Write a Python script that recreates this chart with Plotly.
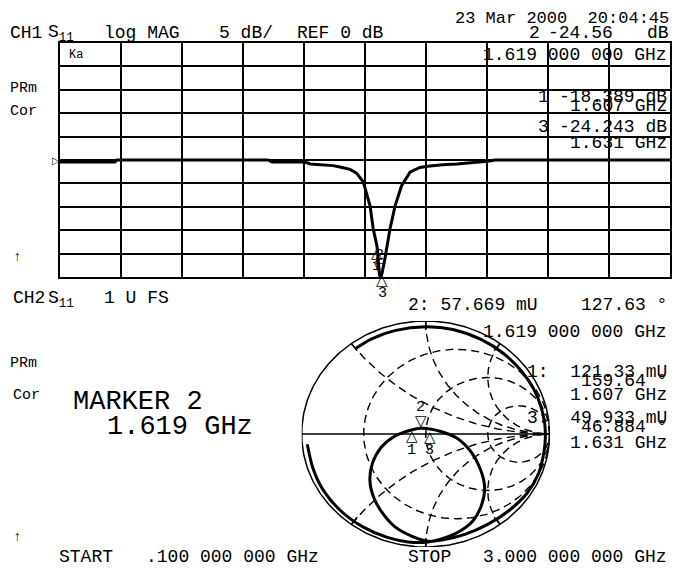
import numpy as np
import plotly.graph_objects as go

W, H = 682, 574          # window / reference size
OFF = 8                  # default page margin of the html body
FW, FH = W - 2 * OFF, H - 2 * OFF

# ---------------- data ----------------
# CH1: S11 log magnitude (GHz, dB)
freq_ghz = [0.100, 0.361, 0.371, 1.089, 1.108, 1.265, 1.289, 1.398, 1.431, 1.479,
            1.510, 1.542, 1.574, 1.589, 1.607, 1.619, 1.625, 1.631, 1.645, 1.653,
            1.669, 1.693, 1.724, 1.764, 1.811, 1.859, 1.920, 1.987, 2.080, 2.144,
            2.168, 3.000]
s11_db = [-0.43, -0.43, 0.0, 0.0, -0.43, -0.43, -0.85, -1.2, -1.5, -2.0,
          -2.8, -4.7, -9.8, -14.7, -18.389, -24.56, -25.0, -24.243, -21.0, -19.0,
          -14.7, -9.8, -5.5, -2.6, -1.6, -1.3, -1.0, -0.85, -0.5, -0.2,
          0.0, 0.0]

# markers
marker_id = ["1", "2", "3"]
marker_freq = [1.607, 1.619, 1.631]
marker_db = [-18.389, -24.56, -24.243]
marker_mag_mu = [121.33, 67.669, 49.933]
marker_ang_deg = [159.64, 127.63, 46.884]

smith_re = [-0.56, -0.44, -0.25, 0.00, 0.22, 0.45, 0.63, 0.77, 0.87, 0.93,
            0.96, 0.965, 0.955, 0.91, 0.82, 0.68, 0.50, 0.31, 0.14, 0.03,
            -0.11, -0.25, -0.355, -0.42, -0.45, -0.43, -0.36, -0.25, -0.114, -0.041,
            0.034, 0.13, 0.25, 0.36, 0.44, 0.475, 0.45, 0.38, 0.26, 0.12,
            0.02, -0.14, -0.31, -0.51, -0.69, -0.83, -0.91, -0.955]
smith_im = [0.76, 0.84, 0.915, 0.95, 0.925, 0.835, 0.71, 0.56, 0.40, 0.24,
            0.09, -0.03, -0.15, -0.35, -0.52, -0.67, -0.80, -0.89, -0.935, -0.95,
            -0.905, -0.82, -0.69, -0.56, -0.41, -0.26, -0.12, -0.02, 0.035, 0.05,
            0.045, 0.02, -0.035, -0.15, -0.31, -0.47, -0.63, -0.77, -0.87, -0.93,
            -0.955, -0.955, -0.915, -0.82, -0.675, -0.49, -0.30, -0.09]

# Smith graticule values
r_circles = [1/3, 1.0, 3.0]
x_arcs = [0.5, 1.0, 2.0]

FONT = "Liberation Mono"


def fx(x):
    return (x - OFF) / FW


def fy(y):
    return 1 - (y - OFF) / FH


fig = go.Figure()

# ---------------- CH1 log mag ----------------
fig.add_trace(go.Scatter(x=freq_ghz, y=s11_db, mode="lines",
                         line=dict(color="black", width=3),
                         xaxis="x", yaxis="y", hoverinfo="skip"))

# ---------------- Smith chart ----------------
dash = "8px,5px"
th = np.linspace(0, 2 * np.pi, 361)
fig.add_trace(go.Scatter(x=np.cos(th), y=np.sin(th), mode="lines",
                         line=dict(color="black", width=1.5),
                         xaxis="x2", yaxis="y2", hoverinfo="skip"))
fig.add_trace(go.Scatter(x=[-1, 1], y=[0, 0], mode="lines",
                         line=dict(color="black", width=1.5),
                         xaxis="x2", yaxis="y2", hoverinfo="skip"))
for r in r_circles:
    c, rad = r / (1 + r), 1 / (1 + r)
    fig.add_trace(go.Scatter(x=c + rad * np.cos(th), y=rad * np.sin(th), mode="lines",
                             line=dict(color="black", width=1.4, dash=dash),
                             xaxis="x2", yaxis="y2", hoverinfo="skip"))
t = np.concatenate([np.linspace(0, 3, 200), np.geomspace(3.02, 300, 150)])
for xv in x_arcs:
    for s in (1, -1):
        z = t + 1j * s * xv
        g = (z - 1) / (z + 1)
        fig.add_trace(go.Scatter(x=g.real, y=g.imag, mode="lines",
                                 line=dict(color="black", width=1.4, dash=dash),
                                 xaxis="x2", yaxis="y2", hoverinfo="skip"))
        g0 = (1j * s * xv - 1) / (1j * s * xv + 1)
        fig.add_trace(go.Scatter(x=[g0.real, 0.92 * g0.real], y=[g0.imag, 0.92 * g0.imag],
                                 mode="lines", line=dict(color="black", width=1.5),
                                 xaxis="x2", yaxis="y2", hoverinfo="skip"))

fig.add_trace(go.Scatter(x=smith_re, y=smith_im, mode="lines",
                         line=dict(color="black", width=3, shape="spline", smoothing=0.8),
                         xaxis="x2", yaxis="y2", hoverinfo="skip"))

ann = []


def txt(s, x, y, anchor="left", size=18, yanchor="middle"):
    ann.append(dict(text=s, x=fx(x), y=min(fy(y), 1.0), xref="paper", yref="paper",
                    xanchor=anchor, yanchor=yanchor, showarrow=False, borderpad=0,
                    font=dict(family=FONT, size=size, color="black")))


def mark(s, x, y, xref, yref, yshift, size=15, family="DejaVu Sans"):
    ann.append(dict(text=s, x=x, y=y, xref=xref, yref=yref, xanchor="center",
                    yanchor="middle", yshift=yshift, showarrow=False,
                    font=dict(family=family, size=size, color="black")))


# markers on log-mag
for mid, f, d in zip(marker_id, marker_freq, marker_db):
    if mid == "2":
        mark("\u25bd", f, d, "x", "y", 7)
        mark(mid, f, d, "x", "y", 19, 15, FONT)
    else:
        mark("\u25b3", f, d, "x", "y", -7)
        mark(mid, f, d, "x", "y", -20, 15, FONT)

# markers on smith
for mid, m, a in zip(marker_id, marker_mag_mu, marker_ang_deg):
    gr = m / 1000 * np.cos(np.radians(a))
    gi = m / 1000 * np.sin(np.radians(a))
    if mid == "2":
        mark("\u25bd", gr, gi, "x2", "y2", 7)
        mark(mid, gr, gi, "x2", "y2", 20, 15, FONT)
    else:
        mark("\u25b3", gr, gi, "x2", "y2", -7)
        mark(mid, gr, gi, "x2", "y2", -21, 15, FONT)

# header texts
txt("23 Mar 2000  20:04:45", 670, 8, "right", size=17, yanchor="top")
txt("CH1", 9, 33)
txt("S<sub>11</sub>", 47, 34)
txt("log MAG", 103, 33)
txt("5 dB/", 218, 33)
txt("REF 0 dB", 296, 33)
txt("2", 528, 33)
txt("-24.56", 547, 33)
txt("dB", 670, 33, "right")
txt("PRm", 9, 88, size=15)
txt("Cor", 9, 112, size=15)
txt("\u2191", 17, 257, "center", 14)
txt("\u25b7", 56, 161, "center", 10)
txt("\u039a\u0430", 68, 55, size=12)

txt("1.619 000 000 GHz", 668, 55, "right")
txt("1", 537, 97)
txt("-18.389 dB", 668, 97, "right")
txt("1.607 GHz", 668, 106, "right")
txt("3", 537, 127)
txt("-24.243 dB", 668, 127, "right")
txt("1.631 GHz", 668, 143, "right")

txt("CH2", 12, 298)
txt("S<sub>11</sub>", 47, 299)
txt("1 U FS", 103, 298)
txt("2: 57.669 mU", 407, 305)
txt("127.63 \u00b0", 668, 305, "right")
txt("1.619 000 000 GHz", 668, 332, "right")
txt("1:  121.33 mU", 668, 372, "right")
txt("159.64 \u00b0", 668, 381, "right")
txt("1.607 GHz", 668, 395, "right")
txt("3:  49.933 mU", 668, 418, "right")
txt("46.884 \u00b0", 668, 427, "right")
txt("1.631 GHz", 668, 443, "right")
txt("PRm", 9, 363, size=15)
txt("Cor", 12, 395, size=15)
txt("MARKER 2", 72, 402, size=27)
txt("1.619 GHz", 106, 427, size=27)
txt("\u2191", 17, 537, "center", 14)
txt("START", 58, 557)
txt(".100 000 000 GHz", 145, 557)
txt("STOP", 407, 557)
txt("3.000 000 000 GHz", 668, 557, "right")

ax_common = dict(showticklabels=False, ticks="", zeroline=False)
fig.update_layout(
    width=FW, height=FH, margin=dict(l=0, r=0, t=0, b=0),
    paper_bgcolor="white", plot_bgcolor="white", showlegend=False,
    xaxis=dict(domain=[fx(60), fx(670)], range=[0.1, 3.0], tick0=0.1, dtick=0.29,
               showgrid=True, gridcolor="black", gridwidth=1.6,
               showline=True, mirror=True, linecolor="black", linewidth=2, **ax_common),
    yaxis=dict(domain=[fy(277), fy(43)], range=[-25, 25], tick0=0, dtick=5,
               showgrid=True, gridcolor="black", gridwidth=1.6,
               showline=True, mirror=True, linecolor="black", linewidth=2, **ax_common),
    xaxis2=dict(domain=[fx(301.7), fx(549.7)], range=[-1, 1], visible=False, anchor="y2"),
    yaxis2=dict(domain=[fy(547), fy(321)], range=[-1, 1], visible=False, anchor="x2"),
    annotations=ann,
)

fig.write_html("out.html")
